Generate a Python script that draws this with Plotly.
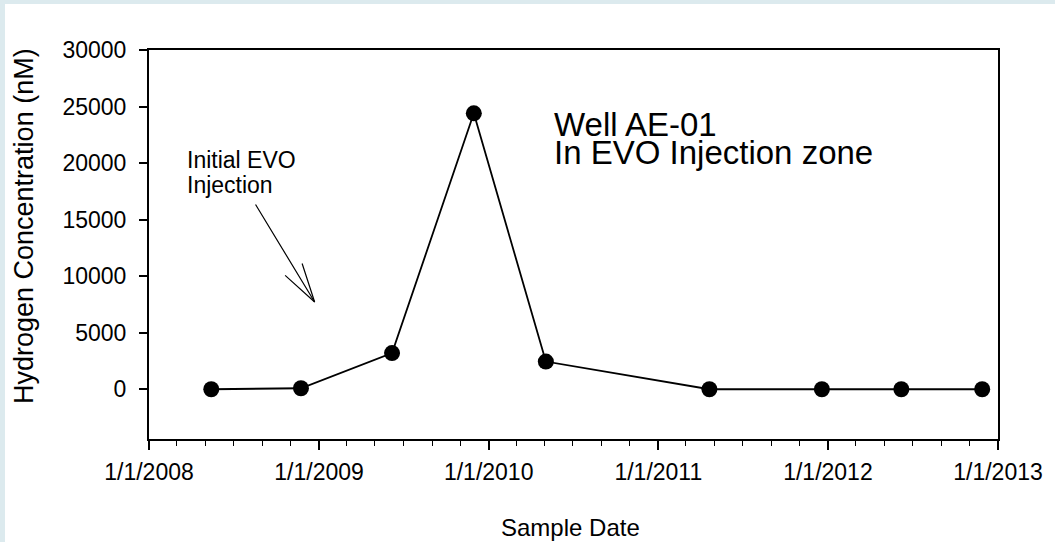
import plotly.graph_objects as go

# Sample dates and hydrogen concentrations for well AE-01
sample_dates = [
    "2008-05-14", "2008-11-23", "2009-06-07", "2009-11-30", "2010-05-04",
    "2011-04-21", "2011-12-19", "2012-06-07", "2012-11-28",
]
hydrogen_nM = [0, 90, 3200, 24400, 2450, 0, 0, 0, 0]

y_ticks = [0, 5000, 10000, 15000, 20000, 25000, 30000]
x_range = ["2008-01-01", "2013-01-01"]
y_range = [-4400, 30000]

W, H = 1055, 542
L, R, T, B = 149, 50, 50, 103
PW, PH = W - L - R, H - T - B

FONT = "Liberation Sans, Arial, sans-serif"
INK = "black"
FRAME_TINT = "#dceaee"


def px(x):
    return (x - L) / PW


def py(y):
    return (H - B - y) / PH


fig = go.Figure()
fig.add_trace(go.Scatter(
    x=sample_dates, y=hydrogen_nM, mode="lines+markers",
    line=dict(color=INK, width=1.8),
    marker=dict(color=INK, size=16),
    showlegend=False, cliponaxis=False,
))

annotations = []


def label(text, x, y, size, anchor="left"):
    annotations.append(dict(
        text=text, xref="paper", yref="paper", x=px(x), y=py(y),
        xanchor=anchor, yanchor="middle", showarrow=False,
        font=dict(family=FONT, size=size, color=INK),
        borderpad=0, borderwidth=0,
    ))


label("Well AE-01", 557, 124, 33)
label("In EVO Injection zone", 557, 152, 33)
label("Initial EVO", 187, 160, 23)
label("Injection", 187, 185.5, 23)

# Arrow pointing at the first injection: shaft plus two open head strokes
tip = (316, 302)
for ax, ay in [(-60, -99), (-31, -28), (-13, -40)]:
    annotations.append(dict(
        text="", xref="paper", yref="paper", x=px(tip[0]), y=py(tip[1]),
        ax=ax, ay=ay, showarrow=True, arrowhead=0, arrowwidth=1.2,
        arrowcolor=INK, standoff=0, startstandoff=0,
    ))

# Axis titles
annotations.append(dict(
    text="Sample Date", xref="paper", yref="paper", x=px(574), y=py(527),
    xanchor="center", yanchor="middle", showarrow=False,
    font=dict(family=FONT, size=24, color=INK),
))
annotations.append(dict(
    text="Hydrogen Concentration (nM)", xref="paper", yref="paper",
    x=px(23), y=py(226), xanchor="center", yanchor="middle",
    textangle=-90, showarrow=False,
    font=dict(family=FONT, size=27, color=INK),
))

# Tinted strips along the top and left edges of the page
shapes = [
    dict(type="rect", xref="paper", yref="paper", xsizemode="pixel",
         ysizemode="pixel", xanchor=0, yanchor=1,
         x0=-L, x1=W - L, y0=T, y1=T - 4,
         fillcolor=FRAME_TINT, line=dict(width=0), layer="below"),
    dict(type="rect", xref="paper", yref="paper", xsizemode="pixel",
         ysizemode="pixel", xanchor=0, yanchor=1,
         x0=-L, x1=-L + 5, y0=T, y1=T - H,
         fillcolor=FRAME_TINT, line=dict(width=0), layer="below"),
]

fig.update_layout(
    width=W, height=H,
    margin=dict(l=L, r=R, t=T, b=B, pad=0),
    paper_bgcolor="white", plot_bgcolor="white",
    font=dict(family=FONT, size=23, color=INK),
    annotations=annotations, shapes=shapes,
    xaxis=dict(
        type="date", range=x_range, tick0="2008-01-01", dtick="M12",
        tickformat="%-m/%-d/%Y", ticks="outside", ticklen=9, tickwidth=1.5,
        tickcolor=INK, showline=True, linecolor=INK, linewidth=2,
        mirror=True, showgrid=False, zeroline=False, ticklabelstandoff=2,
        tickfont=dict(family=FONT, size=23, color=INK),
        minor=dict(dtick="M2", ticks="outside", ticklen=5, tickwidth=1.2,
                   tickcolor=INK, showgrid=False),
    ),
    yaxis=dict(
        range=y_range, tickvals=y_ticks, tickformat="d", ticks="outside",
        ticklen=8, tickwidth=1.5, tickcolor=INK, showline=True,
        linecolor=INK, linewidth=2, mirror=True, showgrid=False,
        zeroline=False, ticklabelstandoff=8,
        tickfont=dict(family=FONT, size=23, color=INK),
    ),
)

fig.write_html("out.html")
